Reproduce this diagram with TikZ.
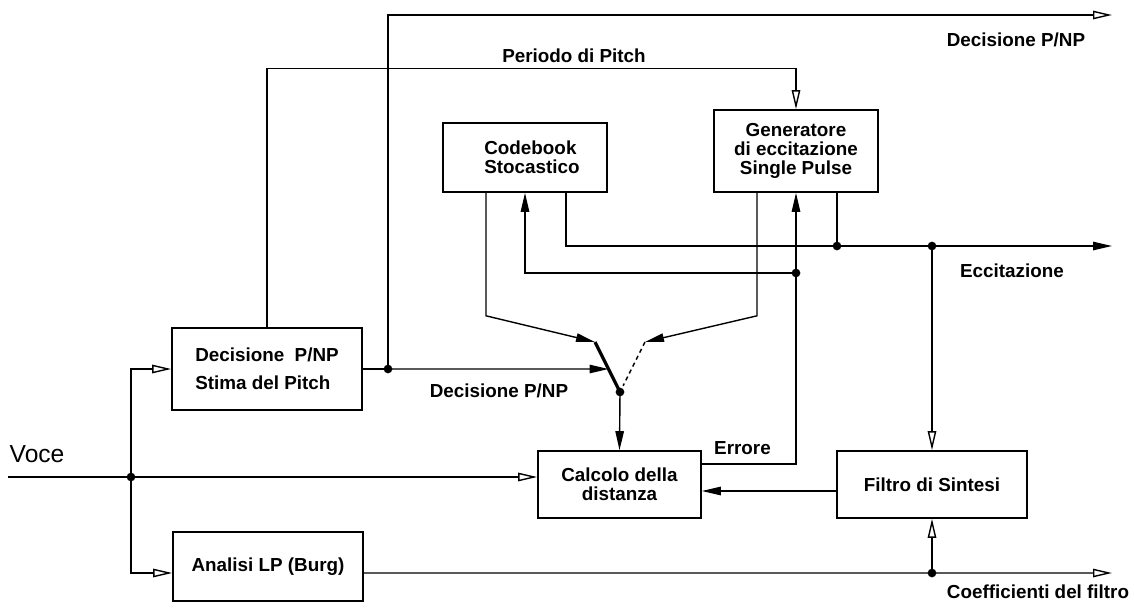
\documentclass[tikz,border=0pt]{standalone}
\usepackage{fontspec}
\setmainfont{Liberation Sans}
\usetikzlibrary{calc,arrows.meta}
\newcommand{\lab}{\fontsize{13.4}{13.8}\selectfont\bfseries}
\def\giunto(#1){\fill (#1) circle (3.1pt);}
\tikzset{
	blok/.style={draw, line width=0.4mm, inner sep=0pt, font=\lab, align=center},
	lab/.style={font=\lab, anchor=base, inner sep=0pt},
	farr/.style={-{Triangle[length=13.5pt,width=6pt]}},
	oarr/.style={-{Triangle[open,length=13.5pt,width=6pt]}}
}
\begin{document}
\begin{tikzpicture}[x=0.025cm, y=-0.025cm, line width=0.35mm]
			%%%%% START %%%%%
			\useasboundingbox (0,0) rectangle (1134,607);
			
			\node[blok, align=left, minimum width=4.75cm, minimum height=2.05cm] (dec) at (267,369) {Decisione\ \ P/NP\\[6pt]Stima del Pitch};
			\node[blok, minimum width=4.75cm, minimum height=1.725cm] (lp) at (268,566.5) {Analisi LP (Burg)};
			\node[blok, align=left, minimum width=4.1cm, minimum height=1.725cm] (cb) at (525,157.5) {\hspace*{0.35cm}Codebook\\\hspace*{0.35cm}Stocastico};
			\node[blok, minimum width=4.1cm, minimum height=2.05cm] (gen) at (796,151) {Generatore\\di eccitazione\\Single Pulse};
			\node[blok, minimum width=4.075cm, minimum height=1.675cm] (calc) at (619.5,484.5) {Calcolo della\\distanza};
			\node[blok, minimum width=4.75cm, minimum height=1.675cm] (filt) at (932,484.5) {Filtro di Sintesi};
			
			\coordinate (vin) at (8,477);
			\coordinate (split) at (131,477);
			\coordinate (pnp) at (388,369);
			\coordinate (swa) at (595,342);
			\coordinate (swb) at (645,342);
			\coordinate (swp) at (620,392);
			\coordinate (fb) at (796,273);
			\coordinate (ej) at (837,246);
			\coordinate (ef) at (932,246);
			\coordinate (cj) at (932,573);
			\coordinate (out1) at (1112,15);
			\coordinate (out2) at (1112,246);
			\coordinate (out3) at (1112,573);
			
			% voce
			\draw (vin) -- (split);
			\draw[oarr] (split) -- (split -| calc.west);
			\draw[oarr] (split) |- (dec.west);
			\draw[oarr] (split) |- ($(lp.west)+(0,6.5)$);
			\giunto(split)
			
			% decisione P/NP
			\draw (dec.east) -- (pnp);
			\draw[farr] (pnp) -- ($(swa)!0.54!(swp)$);
			\draw[oarr] (pnp) |- (out1);
			\giunto(pnp)
			
			% periodo di pitch
			\draw[oarr] (dec.north) -- ++(0,-258.5) -| (gen.north);
			
			% commutatore
			\draw[farr] ($(cb.south)+(-39,0)$) -- ++(0,123) -- (swa);
			\draw[farr] ($(gen.south)+(-39,0)$) -- ++(0,123) -- (swb);
			\draw[line width=0.8mm] (swa) -- (swp);
			\draw[dash pattern=on 3pt off 2.5pt, shorten >=5pt] (swb) -- (swp);
			\draw[farr] (swp) -- (calc.north);
			\giunto(swp)
			
			% eccitazione
			\draw[farr] ($(cb.south)+(41,0)$) |- (out2);
			\draw (gen.south -| ej) -- (ej);
			\draw[oarr] (ef) -- (filt.north);
			\giunto(ej)
			\giunto(ef)
			
			% errore
			\draw ($(calc.east)+(0,-20.5)$) -| (fb);
			\draw[farr] (fb) -- (gen.south);
			\draw[farr] (fb) -| (cb.south);
			\giunto(fb)
			\draw[farr] ($(filt.west)+(0,6.5)$) -- ($(calc.east)+(0,6.5)$);
			
			% coefficienti
			\draw[oarr] ($(lp.east)+(0,6.5)$) -- (out3);
			\draw[oarr] (cj) -- (filt.south);
			\giunto(cj)
			
			\node[lab] (l1) at (1016,46) {Decisione P/NP};
			\node[lab] (l2) at (574,62) {Periodo di Pitch};
			\node[lab] (l3) at (1012,277) {Eccitazione};
			\node[lab] (l4) at (499,397) {Decisione P/NP};
			\node[lab] (l5) at (742.5,454) {Errore};
			\node[lab] (l6) at (1038,598) {Coefficienti del filtro};
			\node[anchor=base west, inner sep=0pt, font=\fontsize{17.5}{18}\selectfont] (voce) at (9,462) {Voce};
			
			%%%%% END %%%%%
\end{tikzpicture}
\end{document}
